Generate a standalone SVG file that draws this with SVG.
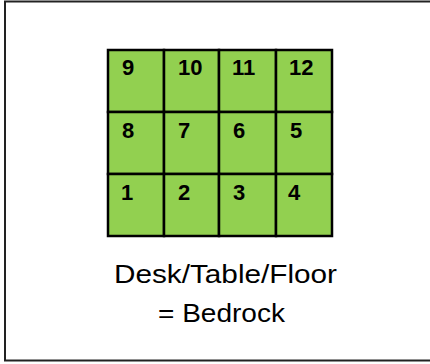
<svg xmlns="http://www.w3.org/2000/svg" width="430" height="364" viewBox="0 0 430 364">
<style>
.cell{fill:#92D050;stroke:#000;stroke-width:2.5}
.num{font-family:"Liberation Sans",Arial,sans-serif;font-weight:bold;font-size:22px;fill:#000}
.lbl{font-family:"Liberation Sans",Arial,sans-serif;font-size:26px;fill:#000}
</style>
<rect x="5" y="1.5" width="440" height="359" fill="#fff" stroke="#222" stroke-width="2"/>
<g id="cell-9"><rect class="cell" x="108" y="50" width="56" height="62"/><text class="num" x="122" y="75">9</text></g>
<g id="cell-10"><rect class="cell" x="164" y="50" width="55" height="62"/><text class="num" x="178" y="75">10</text></g>
<g id="cell-11"><rect class="cell" x="219" y="50" width="57" height="62"/><text class="num" x="232" y="75">11</text></g>
<g id="cell-12"><rect class="cell" x="276" y="50" width="56" height="62"/><text class="num" x="289" y="75">12</text></g>
<g id="cell-8"><rect class="cell" x="108" y="112" width="56" height="62"/><text class="num" x="122" y="138">8</text></g>
<g id="cell-7"><rect class="cell" x="164" y="112" width="55" height="62"/><text class="num" x="178" y="138">7</text></g>
<g id="cell-6"><rect class="cell" x="219" y="112" width="57" height="62"/><text class="num" x="233" y="138">6</text></g>
<g id="cell-5"><rect class="cell" x="276" y="112" width="56" height="62"/><text class="num" x="290" y="138">5</text></g>
<g id="cell-1"><rect class="cell" x="108" y="174" width="56" height="62"/><text class="num" x="121" y="200">1</text></g>
<g id="cell-2"><rect class="cell" x="164" y="174" width="55" height="62"/><text class="num" x="178" y="200">2</text></g>
<g id="cell-3"><rect class="cell" x="219" y="174" width="57" height="62"/><text class="num" x="233" y="200">3</text></g>
<g id="cell-4"><rect class="cell" x="276" y="174" width="56" height="62"/><text class="num" x="288" y="200">4</text></g>
<g id="connectors"></g>
<g id="label">
<text class="lbl" x="114" y="283" textLength="223" lengthAdjust="spacingAndGlyphs">Desk/Table/Floor</text>
<text class="lbl" x="158" y="322" textLength="127" lengthAdjust="spacingAndGlyphs">= Bedrock</text>
</g>
</svg>
